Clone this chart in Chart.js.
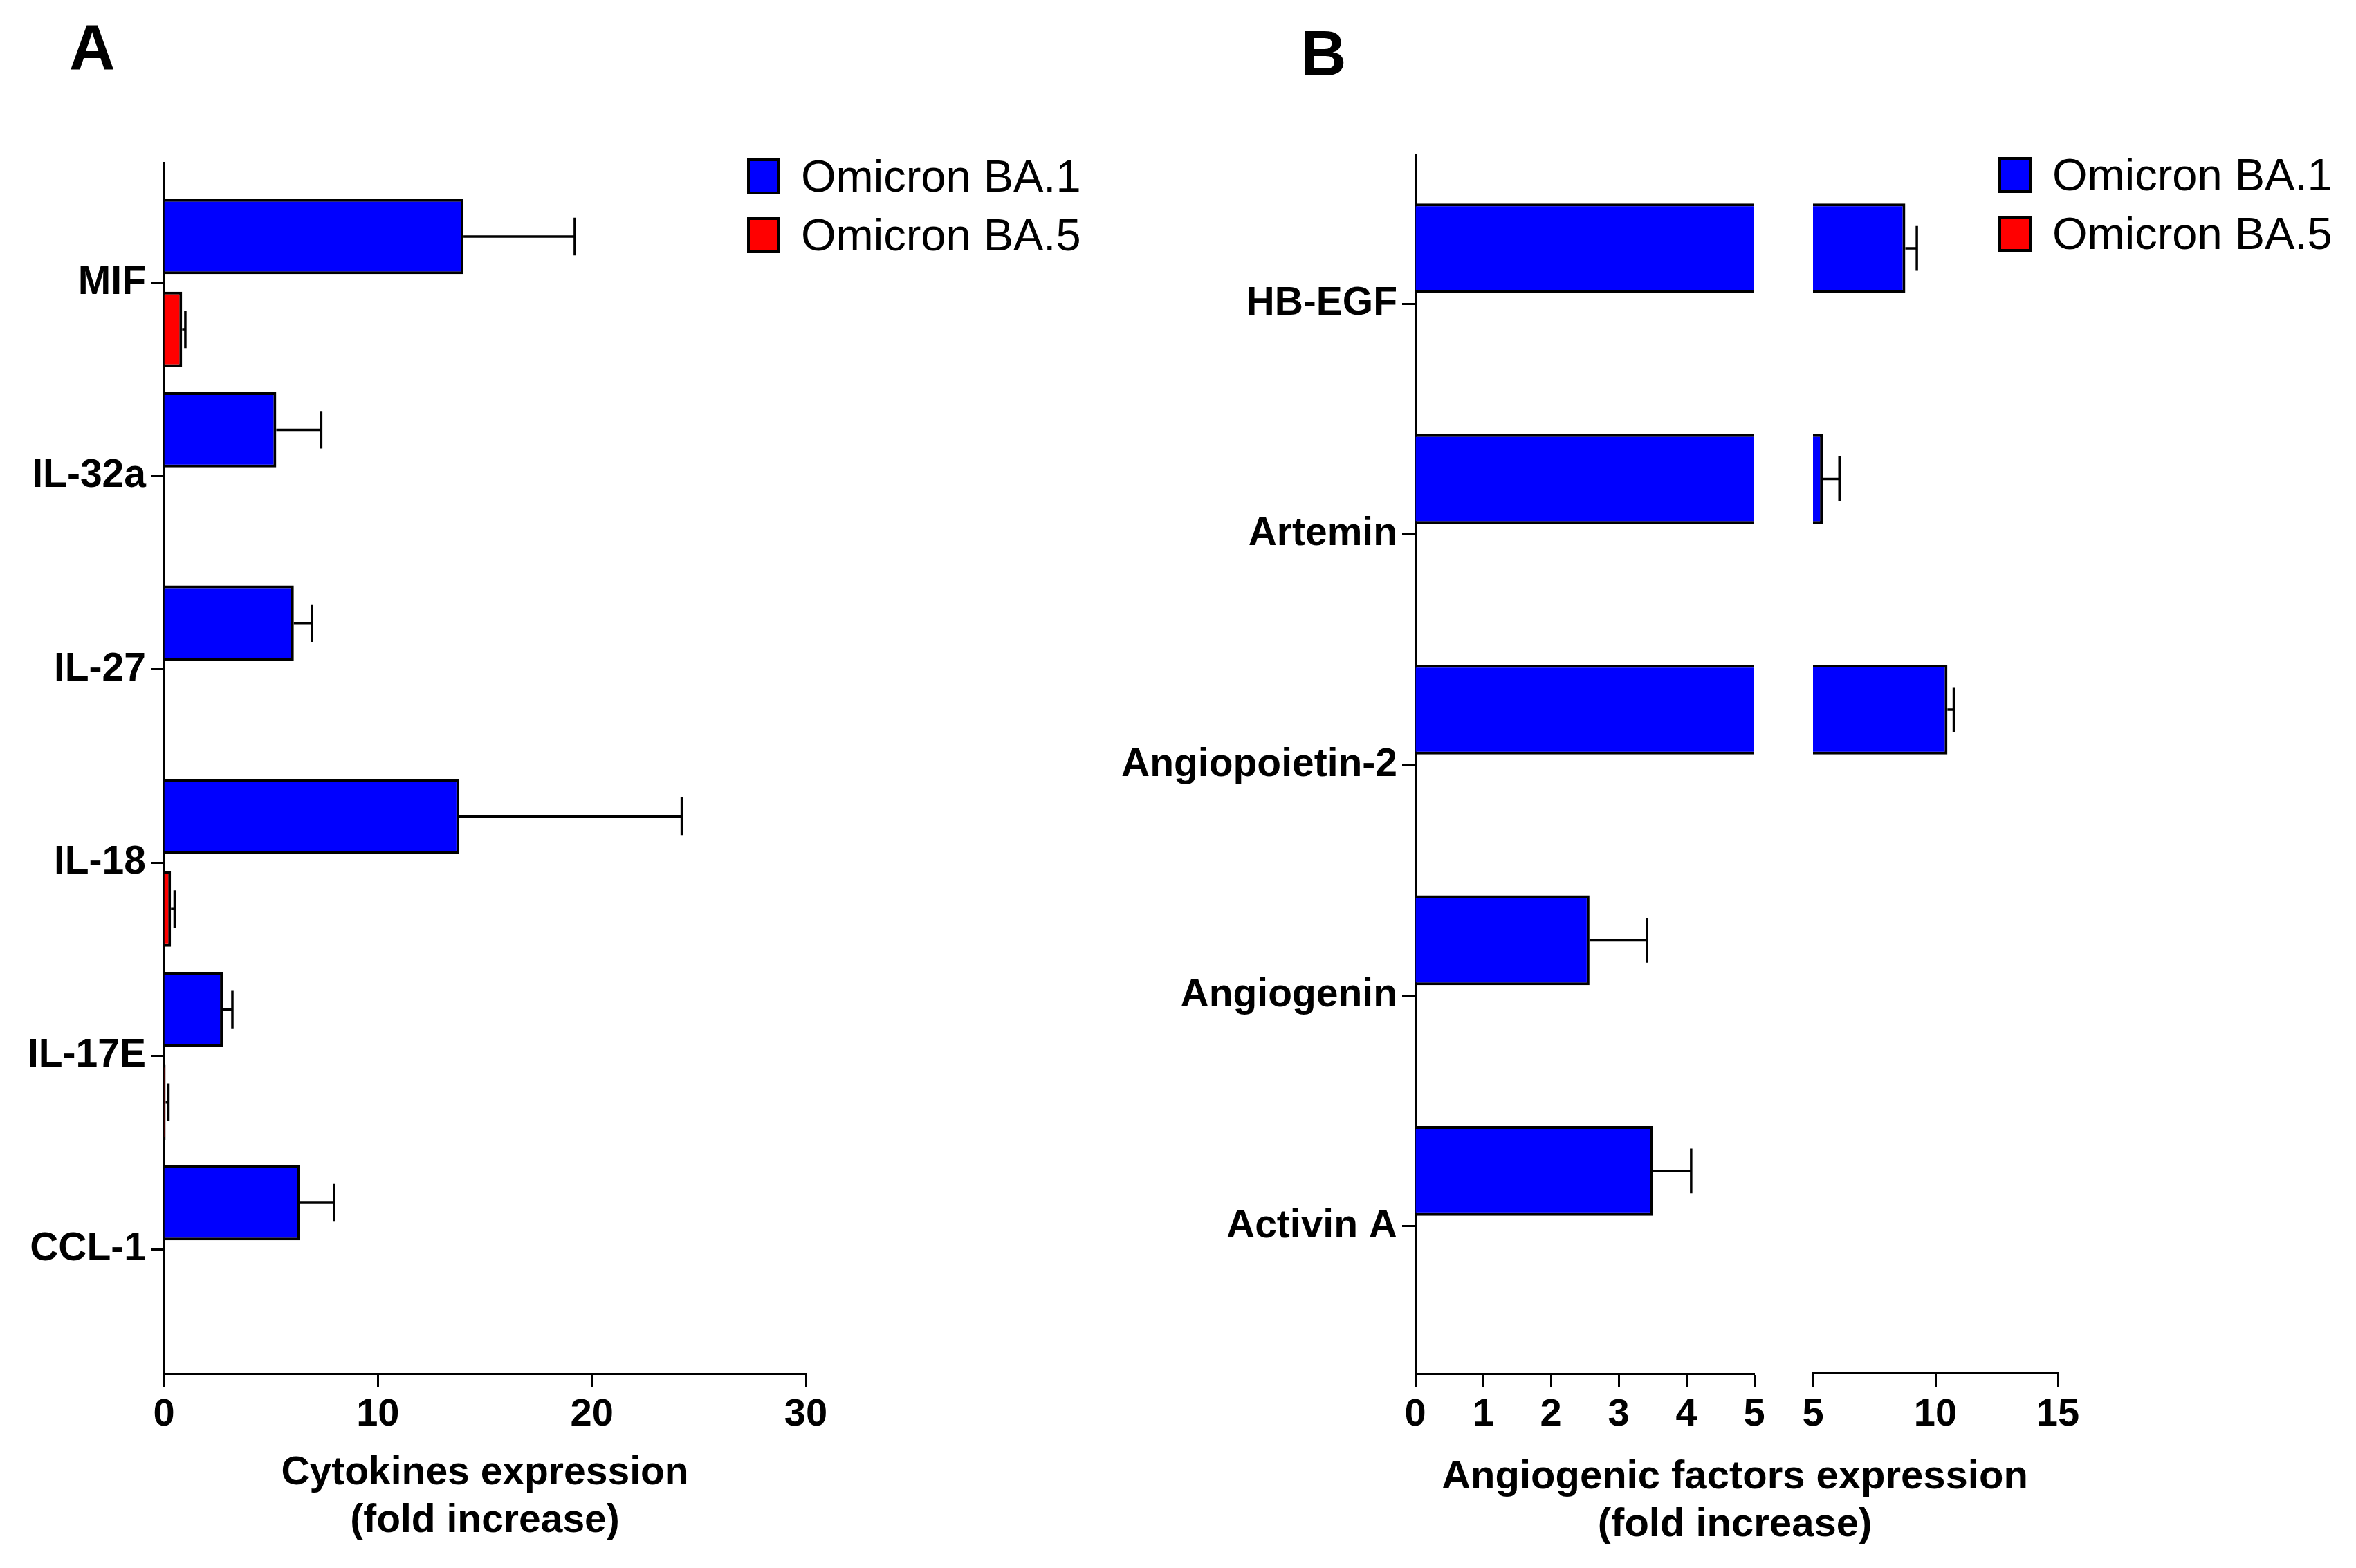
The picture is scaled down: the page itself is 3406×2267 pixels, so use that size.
<!DOCTYPE html>
<html>
<head>
<meta charset="utf-8">
<script src="https://cdn.jsdelivr.net/npm/chart.js@4.4.1/dist/chart.umd.min.js"></script>
<style>
html,body{margin:0;padding:0;background:#fff}
body{width:3406px;height:2267px;position:relative;overflow:hidden;font-family:"Liberation Sans",Arial,sans-serif;color:#000}
canvas{position:absolute;top:0}
.tag{position:absolute;font-weight:bold;font-size:92px;line-height:1}
.sw{position:absolute;width:48px;height:52px;box-sizing:border-box;border:4px solid #000}
.lt{position:absolute;font-size:65px;line-height:52px;white-space:nowrap}
</style>
</head>
<body>
<div class="tag" style="left:100px;top:22px">A</div>
<div class="tag" style="left:1880px;top:31px">B</div>
<canvas id="cyto" width="1700" height="2267" style="left:0"></canvas>
<canvas id="angioLow" width="1000" height="2267" style="left:1560px"></canvas>
<canvas id="angioHigh" width="994" height="2267" style="left:2041px"></canvas>
<div id="legends"></div>
<script>
// ===== data =====
const seriesNames = ['Omicron BA.1', 'Omicron BA.5'];

const cytokines = ['MIF', 'IL-32a', 'IL-27', 'IL-18', 'IL-17E', 'CCL-1'];
const cytoBA1 = [14.0, 5.25, 6.07, 13.8, 2.75, 6.35];
const cytoBA1Err = [5.2, 2.1, 0.85, 10.4, 0.45, 1.6];
const cytoBA5 = [0.85, null, null, 0.33, 0.08, null];
const cytoBA5Err = [0.15, null, null, 0.17, 0.13, null];
const cytoTicks = [0, 10, 20, 30];

const angioFactors = ['HB-EGF', 'Artemin', 'Angiopoietin-2', 'Angiogenin', 'Activin A'];
const angioBA1 = [8.77, 5.4, 10.49, 2.57, 3.51];
const angioBA1Err = [0.47, 0.68, 0.26, 0.85, 0.56];
const angioBA5 = [null, null, null, null, null];
const angioBA5Err = [null, null, null, null, null];
const angioTicksLow = [0, 1, 2, 3, 4, 5];
const angioTicksHigh = [5, 10, 15];

// ===== style =====
const seriesColors = ['#0000ff', '#ff0000'];
Chart.defaults.font.family = '"Liberation Sans", Arial, sans-serif';
Chart.defaults.color = '#000';

const pts = vals => vals.map((v, i) => ({ y: i, x: v }));

// error bars: line from bar end + cap, clipped to chart area
const errorBars = {
  id: 'errorBars',
  afterDatasetsDraw(chart) {
    const ctx = chart.ctx, a = chart.chartArea, xs = chart.scales.x;
    ctx.save();
    ctx.beginPath();
    ctx.rect(a.left, a.top, a.right - a.left, a.bottom - a.top);
    ctx.clip();
    ctx.strokeStyle = '#000';
    ctx.lineWidth = 3.5;
    chart.data.datasets.forEach((ds, di) => {
      chart.getDatasetMeta(di).data.forEach((bar, i) => {
        const v = ds.data[i].x, e = ds.errors[i];
        if (v == null || e == null) return;
        const x1 = xs.getPixelForValue(v + e), h = bar.height / 4;
        ctx.beginPath();
        ctx.moveTo(bar.x, bar.y); ctx.lineTo(x1, bar.y);
        ctx.moveTo(x1, bar.y - h); ctx.lineTo(x1, bar.y + h);
        ctx.stroke();
      });
    });
    ctx.restore();
  }
};

function barSets(a, aErr, b, bErr) {
  return [[a, aErr], [b, bErr]].map(([vals, errs], k) => ({
    label: seriesNames[k], data: pts(vals), errors: errs,
    backgroundColor: seriesColors[k], borderColor: '#000', borderWidth: 4, borderSkipped: 'start',
    categoryPercentage: 0.96, barPercentage: 0.81, clip: 0
  }));
}

function catAxis(cats, min, max, width, show) {
  return {
    type: 'linear', reverse: true, min, max, offset: false,
    afterBuildTicks: s => { s.ticks = cats.map((c, i) => ({ value: i })); },
    afterFit: s => { s.width = width; },
    ticks: { display: show, callback: v => cats[v], font: { size: 57, weight: 'bold' }, padding: 7, color: '#000' },
    grid: { display: show, offset: false, drawOnChartArea: false, tickLength: 19, tickWidth: 3, tickColor: '#000' },
    border: { display: show, color: '#000', width: 3 }
  };
}

function valAxis(min, max, tickVals, height, title) {
  return {
    type: 'linear', min, max, offset: false,
    afterBuildTicks: s => { s.ticks = tickVals.map(v => ({ value: v })); },
    afterFit: s => { s.height = height; },
    ticks: { font: { size: 56, weight: 'bold' }, padding: 6, color: '#000' },
    grid: { offset: false, drawOnChartArea: false, tickLength: 20, tickWidth: 3, tickColor: '#000' },
    border: { color: '#000', width: 3 },
    title: title || { display: false }
  };
}

const common = { indexAxis: 'y', responsive: false, animation: false };

// ===== panel A =====
new Chart(document.getElementById('cyto'), {
  type: 'bar',
  data: { datasets: barSets(cytoBA1, cytoBA1Err, cytoBA5, cytoBA5Err) },
  options: { ...common,
    layout: { padding: { top: 235, left: 0, right: 535, bottom: 0 } },
    plugins: { legend: { display: false }, tooltip: { enabled: false } },
    scales: {
      y: catAxis(cytokines, -0.623, 5.644, 237, true),
      x: valAxis(0, 30, cytoTicks, 281, { display: true, text: ['Cytokines expression', '(fold increase)'],
        font: { size: 57, weight: 'bold', lineHeight: 1.2 }, padding: { top: 0, bottom: 34 }, color: '#000' })
    }
  },
  plugins: [errorBars]
});

// ===== panel B (broken axis: two charts) =====
new Chart(document.getElementById('angioLow'), {
  type: 'bar',
  data: { datasets: barSets(angioBA1, angioBA1Err, angioBA5, angioBA5Err) },
  options: { ...common,
    layout: { padding: { top: 224, left: 0, right: 24, bottom: 0 } },
    plugins: { legend: { display: false }, tooltip: { enabled: false } },
    scales: {
      y: catAxis(angioFactors, -0.645, 4.639, 486, true),
      x: valAxis(0, 5, angioTicksLow, 281, null)
    }
  },
  plugins: [errorBars]
});

new Chart(document.getElementById('angioHigh'), {
  type: 'bar',
  data: { datasets: barSets(angioBA1, angioBA1Err, angioBA5, angioBA5Err) },
  options: { ...common,
    layout: { padding: { top: 224, left: 0, right: 60, bottom: 0 } },
    plugins: {
      legend: { display: false }, tooltip: { enabled: false },
      title: { display: true, position: 'bottom', text: ['Angiogenic factors expression', '(fold increase)'],
        font: { size: 58, weight: 'bold', lineHeight: 1.2 }, padding: { top: 0, bottom: 27 }, color: '#000' }
    },
    scales: {
      y: catAxis(angioFactors, -0.645, 4.639, 580, false),
      x: valAxis(5, 15, angioTicksHigh, 115, null)
    }
  },
  plugins: [errorBars]
});

// ===== legends =====
const lg = document.getElementById('legends');
[[1080, 229], [2889, 227]].forEach(([x, y]) => {
  seriesNames.forEach((name, k) => {
    const top = y + 85 * k;
    lg.insertAdjacentHTML('beforeend',
      `<span class="sw" style="left:${x}px;top:${top}px;background:${seriesColors[k]}"></span>` +
      `<span class="lt" style="left:${x + 78}px;top:${top}px">${name}</span>`);
  });
});
</script>
</body>
</html>
